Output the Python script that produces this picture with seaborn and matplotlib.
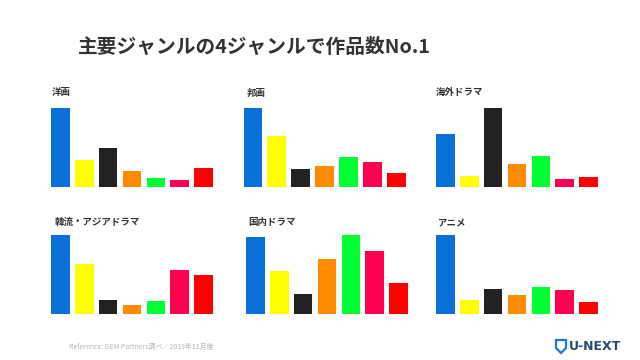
import numpy as np
import matplotlib
matplotlib.use("Agg")
import matplotlib.pyplot as plt
from matplotlib.patches import Polygon
import seaborn as sns

# services compared in each genre (same order in every panel)
services = ["U-NEXT", "B", "C", "D", "E", "F", "G"]
bar_colors = ["#0a6fd8", "#ffff00", "#222222", "#ff8c00", "#00ff33", "#ff0050", "#ff0000"]

genres = ["洋画", "邦画", "海外ドラマ", "韓流・アジアドラマ", "国内ドラマ", "アニメ"]

# relative title counts (max of each panel = 100)
yoga = [100, 33.6, 49.4, 19.6, 11.1, 8.1, 23.4]
hoga = [100, 65.1, 22.1, 26.0, 37.9, 31.5, 17.0]
kaigai_drama = [66.8, 13.2, 100, 29.4, 39.1, 9.8, 12.3]
asia_drama = [100, 63.8, 17.0, 11.1, 15.7, 56.2, 48.9]
kokunai_drama = [97.9, 54.9, 24.7, 69.4, 100, 80.4, 39.1]
anime = [100, 17.0, 31.1, 24.3, 34.0, 29.8, 14.9]

panel_values = [yoga, hoga, kaigai_drama, asia_drama, kokunai_drama, anime]

W, H = 640, 360

sns.set_theme(style="white")
plt.rcParams["font.family"] = ["Noto Sans CJK JP", "DejaVu Sans"]

fig = plt.figure(figsize=(W / 100, H / 100), dpi=100)
fig.patch.set_facecolor("white")


def fx(px):
    return px / W


def fy(py):
    return 1 - py / H


# panel layout in pixels: left edge of bars, top of tallest bar, baseline
lefts = [51, 243.5, 436, 51, 246, 436]
tops = [108.3, 108.3, 108.3, 235.3, 235.3, 235.3]
bottoms = [186.7, 186.7, 186.7, 313.7, 313.7, 313.7]
title_pos = [(52, 92.5), (246.5, 92.5), (436, 92.5), (55, 222), (248, 222), (438, 222)]
span = 162

for i, vals in enumerate(panel_values):
    ax = fig.add_axes([fx(lefts[i]), fy(bottoms[i]), span / W, (bottoms[i] - tops[i]) / H])
    sns.barplot(x=services, y=vals, hue=services, palette=bar_colors, width=0.78,
                saturation=1, linewidth=0, legend=False, ax=ax)
    ax.set_xlim(-0.39, 6.39)
    ax.set_ylim(0, max(vals))
    ax.axis("off")
    tx, ty = title_pos[i]
    fig.text(fx(tx), fy(ty), genres[i], fontsize=6.8, fontweight="bold",
             color="#333333", ha="left", va="center")

fig.text(fx(78), fy(47), "主要ジャンルの4ジャンルで作品数No.1", fontsize=14.2,
         fontweight="bold", color="#333333", ha="left", va="center")

fig.text(fx(69), fy(347), "Reference: GEM Partners調べ／2019年11月度", fontsize=5,
         color="#b5b5b5", ha="left", va="center")

# U-NEXT logo
shield = [(556, 340), (566, 340), (566, 348), (561, 353), (556, 348)]
fig.patches.append(Polygon([(fx(x), fy(y)) for x, y in shield], closed=True,
                           transform=fig.transFigure, facecolor="white",
                           edgecolor="#1a7ad4", linewidth=1.6))
fig.text(fx(569), fy(347), "U-NEXT", fontsize=9, fontweight="bold",
         color="#2a4a70", ha="left", va="center", family="DejaVu Sans")

fig.savefig("out.png", dpi=100, facecolor="white")
